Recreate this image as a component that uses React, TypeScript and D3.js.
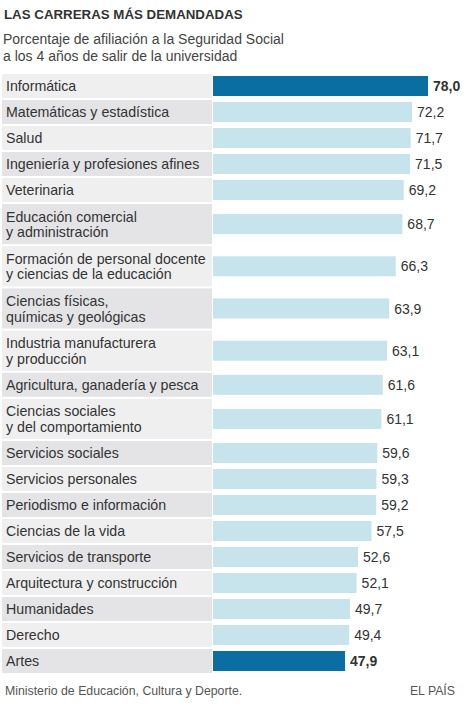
import React from "react";
import * as d3 from "d3";

const categories = [
  "Informática",
  "Matemáticas y estadística",
  "Salud",
  "Ingeniería y profesiones afines",
  "Veterinaria",
  "Educación comercial\ny administración",
  "Formación de personal docente\ny ciencias de la educación",
  "Ciencias físicas,\nquímicas y geológicas",
  "Industria manufacturera\ny producción",
  "Agricultura, ganadería y pesca",
  "Ciencias sociales\ny del comportamiento",
  "Servicios sociales",
  "Servicios personales",
  "Periodismo e información",
  "Ciencias de la vida",
  "Servicios de transporte",
  "Arquitectura y construcción",
  "Humanidades",
  "Derecho",
  "Artes",
];
const values = [78.0, 72.2, 71.7, 71.5, 69.2, 68.7, 66.3, 63.9, 63.1, 61.6, 61.1, 59.6, 59.3, 59.2, 57.5, 52.6, 52.1, 49.7, 49.4, 47.9];
const highlighted = ["Informática", "Artes"];

const W = 467;
const H = 708;
const FONT = "'Liberation Sans', Arial, Helvetica, sans-serif";

export default function App() {
  const x = d3.scaleLinear().domain([0, 78]).range([213, 428]);
  const rowH = (c: string) => (c.includes("\n") ? 42.2 : 26);
  let y0 = 74;
  const rows = categories.map((c, i) => {
    const h = rowH(c);
    const r = { c, v: values[i], y: y0, h, i };
    y0 += h;
    return r;
  });
  const fmt = (v: number) => d3.format(".1f")(v).replace(".", ",");
  return (
    <svg width={W} height={H} style={{ position: "absolute", left: 0, top: 0, background: "#fff" }} fontFamily={FONT}>
      <text x={4} y={19} fontSize={13.3} fontWeight="bold" fill="#333">LAS CARRERAS MÁS DEMANDADAS</text>
      <text x={3} y={44} fontSize={14} fill="#444">Porcentaje de afiliación a la Seguridad Social</text>
      <text x={3} y={61} fontSize={14} fill="#444">a los 4 años de salir de la universidad</text>
      {rows.map((r) => {
        const hi = highlighted.includes(r.c);
        const lines = r.c.split("\n");
        const cy = r.y + (r.h - 2) / 2;
        return (
          <g key={r.c}>
            <rect x={2} y={r.y} width={210} height={r.h - 2} fill={r.i % 2 === 0 ? "#efeff0" : "#e4e4e6"} />
            {lines.map((l, j) => (
              <text
                key={j}
                x={6}
                y={cy + 5 + (lines.length === 2 ? (j === 0 ? -7.5 : 8) : 0)}
                fontSize={14.2}
                fill="#333"
              >
                {l}
              </text>
            ))}
            <rect x={x(0)} y={cy - 10} width={x(r.v) - x(0)} height={20} fill={hi ? "#0b6ea3" : "#c7e3ec"} />
            <text x={x(r.v) + 5} y={cy + 5} fontSize={14} fill="#333" fontWeight={hi ? "bold" : "normal"}>
              {fmt(r.v)}
            </text>
          </g>
        );
      })}
      <text x={5} y={695} fontSize={12.3} fill="#555">Ministerio de Educación, Cultura y Deporte.</text>
      <text x={455} y={695} fontSize={12.3} fill="#555" textAnchor="end">EL PAÍS</text>
    </svg>
  );
}
